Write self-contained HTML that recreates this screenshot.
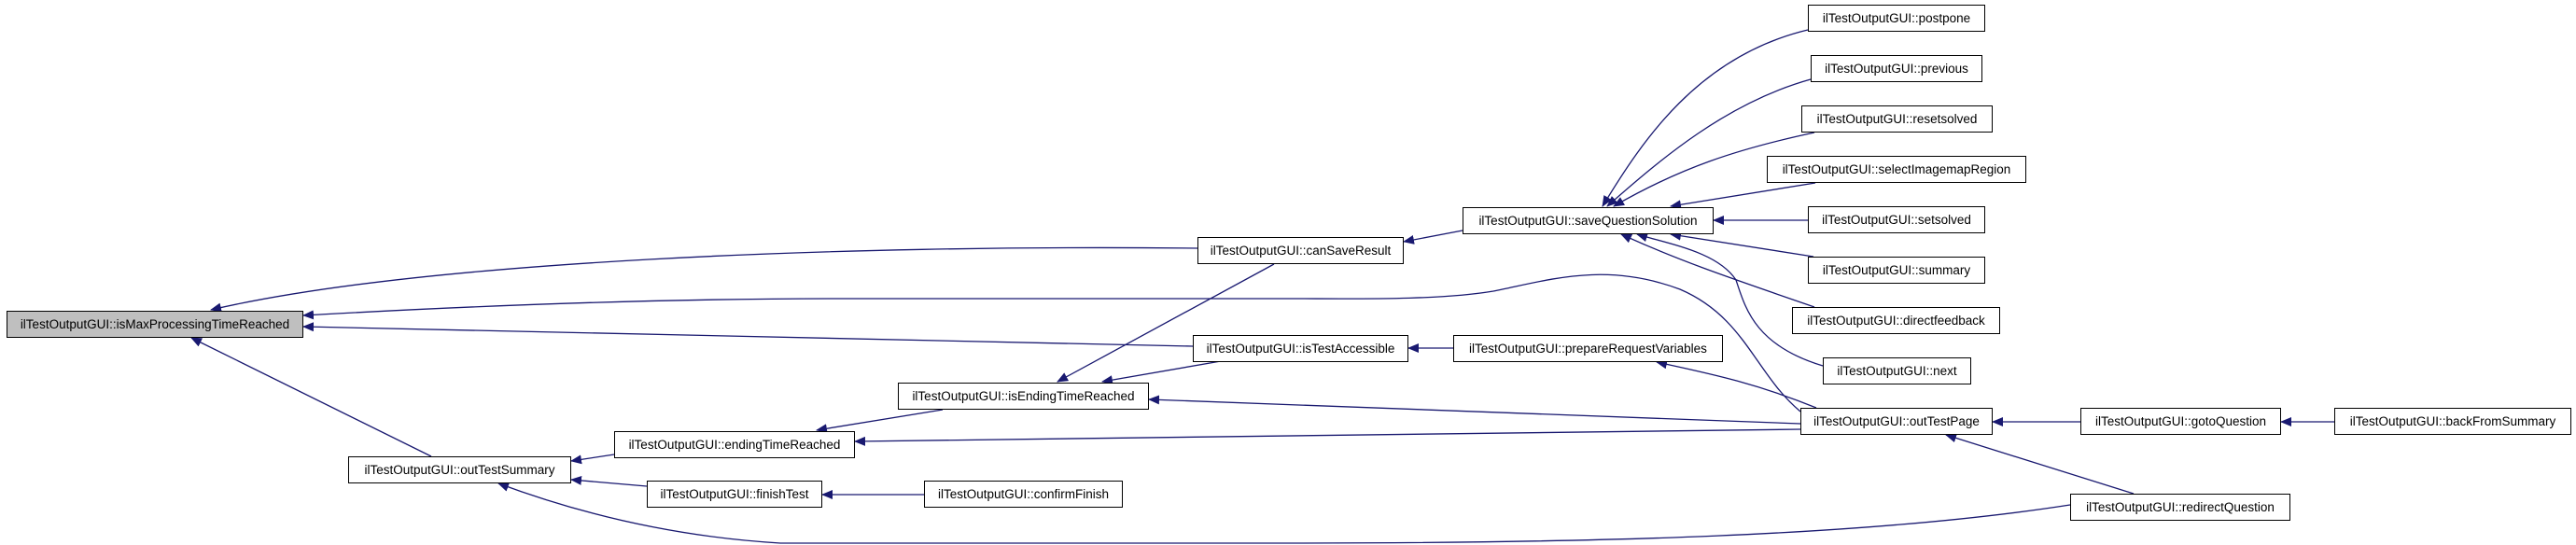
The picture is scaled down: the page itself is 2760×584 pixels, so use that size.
<!DOCTYPE html>
<html><head><meta charset="utf-8"><style>
html,body{margin:0;padding:0;background:#fff;}
body{width:2760px;height:584px;position:relative;overflow:hidden;font-family:"Liberation Sans",sans-serif;}
.n{position:absolute;box-sizing:border-box;border:1.5px solid #000;background:#fff;font-size:13.5px;display:flex;align-items:center;justify-content:center;white-space:nowrap;color:#000;}
svg{position:absolute;left:0;top:0;}
</style></head><body>
<svg width="2760" height="584" viewBox="0 0 2760 584">
<defs><marker id="a" markerWidth="12" markerHeight="10" refX="11" refY="5" orient="auto" markerUnits="userSpaceOnUse"><path d="M0,0 L12,5 L0,10 z" fill="#191970"/></marker></defs>
<g fill="none" stroke="#191970" stroke-width="1.3" marker-end="url(#a)">
<path d="M1283,266 C900,262 450,280 226,332"/>
<path d="M1929,441 C1880,400 1870,340 1800,310 C1720,280 1660,300 1600,312 C1540,322 1450,320 1380,320 L900,320 C700,320 500,328 325,338"/>
<path d="M1278,371 L325,350"/>
<path d="M462,489 L205,362"/>
<path d="M1567,247 L1504,259"/>
<path d="M1365,283 L1133,409"/>
<path d="M1308,387 L1181,409"/>
<path d="M1929,454 L1231,428"/>
<path d="M1929,460 L916,473"/>
<path d="M1010,439 L875,461"/>
<path d="M658,487 L612,494"/>
<path d="M693,521 L612,514"/>
<path d="M990,530 L881,530"/>
<path d="M2218,541 C2000,575 1700,582 1380,582 L836,582 C720,575 620,550 534,518"/>
<path d="M1557,373 L1509,373"/>
<path d="M1946,437 C1880,410 1830,400 1775,388"/>
<path d="M1937,32 C1820,60 1760,150 1717,221"/>
<path d="M1940,85 C1850,110 1780,170 1722,221"/>
<path d="M1944,142 C1860,160 1800,180 1729,221"/>
<path d="M1945,196 L1790,221"/>
<path d="M1937,236 L1836,236"/>
<path d="M1943,275 L1790,251"/>
<path d="M1944,329 C1860,300 1800,280 1737,251"/>
<path d="M1953,392 C1880,370 1870,330 1860,300 C1840,270 1790,262 1754,251"/>
<path d="M2229,452 L2135,452"/>
<path d="M2501,452 L2444,452"/>
<path d="M2286,529 L2085,466"/>
</g>
</svg>
<div class="n" style="left:7px;top:333px;width:318px;height:29px;background:#bfbfbf">ilTestOutputGUI::isMaxProcessingTimeReached</div>
<div class="n" style="left:1283px;top:254px;width:221px;height:29px">ilTestOutputGUI::canSaveResult</div>
<div class="n" style="left:1278px;top:359px;width:231px;height:29px">ilTestOutputGUI::isTestAccessible</div>
<div class="n" style="left:962px;top:410px;width:269px;height:29px">ilTestOutputGUI::isEndingTimeReached</div>
<div class="n" style="left:658px;top:462px;width:258px;height:29px">ilTestOutputGUI::endingTimeReached</div>
<div class="n" style="left:373px;top:489px;width:239px;height:29px">ilTestOutputGUI::outTestSummary</div>
<div class="n" style="left:693px;top:515px;width:188px;height:29px">ilTestOutputGUI::finishTest</div>
<div class="n" style="left:990px;top:515px;width:213px;height:29px">ilTestOutputGUI::confirmFinish</div>
<div class="n" style="left:1567px;top:222px;width:269px;height:29px">ilTestOutputGUI::saveQuestionSolution</div>
<div class="n" style="left:1557px;top:359px;width:289px;height:29px">ilTestOutputGUI::prepareRequestVariables</div>
<div class="n" style="left:1937px;top:5px;width:190px;height:29px">ilTestOutputGUI::postpone</div>
<div class="n" style="left:1940px;top:59px;width:184px;height:29px">ilTestOutputGUI::previous</div>
<div class="n" style="left:1930px;top:113px;width:205px;height:29px">ilTestOutputGUI::resetsolved</div>
<div class="n" style="left:1893px;top:167px;width:278px;height:29px">ilTestOutputGUI::selectImagemapRegion</div>
<div class="n" style="left:1937px;top:221px;width:190px;height:29px">ilTestOutputGUI::setsolved</div>
<div class="n" style="left:1937px;top:275px;width:190px;height:29px">ilTestOutputGUI::summary</div>
<div class="n" style="left:1920px;top:329px;width:223px;height:29px">ilTestOutputGUI::directfeedback</div>
<div class="n" style="left:1953px;top:383px;width:159px;height:29px">ilTestOutputGUI::next</div>
<div class="n" style="left:1929px;top:437px;width:206px;height:29px">ilTestOutputGUI::outTestPage</div>
<div class="n" style="left:2229px;top:437px;width:215px;height:29px">ilTestOutputGUI::gotoQuestion</div>
<div class="n" style="left:2501px;top:437px;width:254px;height:29px">ilTestOutputGUI::backFromSummary</div>
<div class="n" style="left:2218px;top:529px;width:236px;height:29px">ilTestOutputGUI::redirectQuestion</div>
</body></html>
